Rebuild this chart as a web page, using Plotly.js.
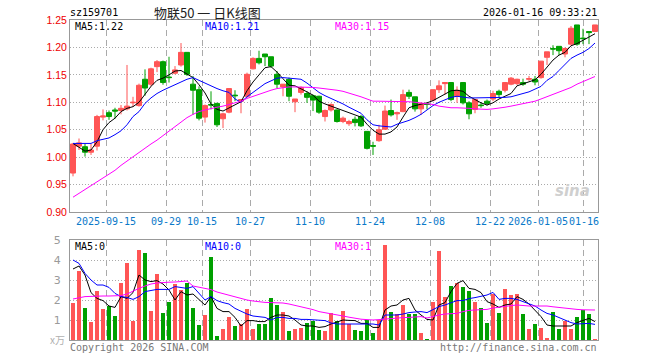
<!DOCTYPE html>
<html><head><meta charset="utf-8">
<script src="https://cdn.plot.ly/plotly-3.0.1.min.js"></script>
<style>html,body{margin:0;padding:0;background:#fff}#chart{width:660px;height:360px}</style>
</head><body><div id="chart"></div>
<script>
// ---- data ----
const openP  = [0.971,1.020,1.019,1.009,1.020,1.073,1.081,1.086,1.085,1.088,1.099,1.094,1.142,1.133,1.165,1.174,1.146,1.153,1.168,1.191,1.133,1.123,1.073,1.096,1.098,1.070,1.082,1.113,1.102,1.111,1.161,1.180,1.188,1.183,1.151,1.128,1.142,1.101,1.118,1.116,1.112,1.111,1.074,1.086,1.086,1.065,1.061,1.069,1.074,1.047,1.021,1.030,1.051,1.085,1.079,1.083,1.118,1.110,1.088,1.097,1.104,1.123,1.134,1.136,1.111,1.136,1.099,1.087,1.095,1.102,1.106,1.120,1.122,1.133,1.134,1.136,1.142,1.142,1.145,1.182,1.198,1.202,1.188,1.206,1.241,1.217,1.229,1.229];
const highP  = [1.026,1.034,1.024,1.024,1.077,1.087,1.085,1.090,1.095,1.168,1.110,1.134,1.160,1.163,1.177,1.176,1.183,1.166,1.208,1.191,1.148,1.129,1.096,1.120,1.099,1.081,1.126,1.122,1.105,1.154,1.182,1.194,1.188,1.183,1.157,1.133,1.145,1.106,1.129,1.120,1.114,1.112,1.087,1.098,1.087,1.074,1.068,1.074,1.077,1.047,1.028,1.059,1.094,1.105,1.083,1.123,1.123,1.110,1.100,1.099,1.123,1.140,1.137,1.137,1.129,1.137,1.102,1.106,1.100,1.105,1.121,1.123,1.137,1.146,1.143,1.143,1.148,1.148,1.175,1.192,1.204,1.202,1.200,1.239,1.241,1.234,1.229,1.241];
const lowP   = [0.965,1.013,1.001,1.004,1.012,1.067,1.068,1.070,1.078,1.085,1.092,1.092,1.112,1.129,1.155,1.132,1.136,1.151,1.165,1.148,1.077,1.067,1.063,1.087,1.055,1.053,1.080,1.102,1.080,1.108,1.160,1.169,1.166,1.163,1.126,1.111,1.102,1.082,1.114,1.099,1.084,1.079,1.065,1.083,1.063,1.062,1.057,1.056,1.055,1.014,1.004,1.028,1.050,1.074,1.068,1.082,1.106,1.083,1.077,1.087,1.102,1.117,1.114,1.102,1.099,1.096,1.069,1.080,1.090,1.094,1.102,1.108,1.118,1.131,1.131,1.130,1.139,1.131,1.143,1.168,1.186,1.186,1.182,1.203,1.203,1.206,1.206,1.228];
const closeP = [1.024,1.026,1.009,1.013,1.074,1.075,1.074,1.084,1.089,1.093,1.100,1.131,1.126,1.161,1.174,1.136,1.145,1.159,1.191,1.151,1.122,1.071,1.094,1.095,1.059,1.079,1.125,1.112,1.105,1.151,1.180,1.172,1.183,1.166,1.133,1.133,1.111,1.106,1.127,1.109,1.104,1.082,1.085,1.096,1.065,1.071,1.065,1.063,1.057,1.016,1.020,1.050,1.084,1.077,1.081,1.114,1.111,1.088,1.098,1.096,1.123,1.130,1.136,1.105,1.122,1.099,1.079,1.105,1.094,1.098,1.116,1.114,1.136,1.144,1.142,1.133,1.143,1.137,1.175,1.192,1.197,1.194,1.198,1.235,1.206,1.216,1.227,1.241];
const ma5  = [1.025,1.018,1.011,1.013,1.028,1.050,1.063,1.071,1.083,1.089,1.092,1.100,1.114,1.129,1.140,1.144,1.150,1.157,1.158,1.152,1.145,1.132,1.117,1.097,1.087,1.084,1.090,1.096,1.101,1.121,1.137,1.150,1.163,1.165,1.155,1.143,1.131,1.130,1.125,1.119,1.113,1.102,1.097,1.093,1.089,1.085,1.080,1.076,1.073,1.060,1.049,1.042,1.042,1.046,1.055,1.073,1.090,1.094,1.096,1.099,1.103,1.109,1.114,1.121,1.122,1.120,1.111,1.105,1.099,1.095,1.099,1.106,1.111,1.116,1.130,1.134,1.137,1.141,1.151,1.163,1.177,1.186,1.191,1.203,1.207,1.213,1.219,1.225];
const ma10 = [1.025,1.025,1.025,1.025,1.030,1.033,1.035,1.041,1.048,1.059,1.074,1.083,1.098,1.108,1.116,1.122,1.127,1.131,1.137,1.142,1.145,1.140,1.134,1.130,1.125,1.121,1.118,1.106,1.100,1.110,1.118,1.126,1.134,1.139,1.144,1.145,1.144,1.143,1.142,1.135,1.126,1.118,1.112,1.107,1.103,1.097,1.091,1.085,1.080,1.068,1.059,1.057,1.056,1.055,1.060,1.063,1.067,1.072,1.078,1.086,1.094,1.100,1.105,1.109,1.111,1.109,1.108,1.108,1.108,1.108,1.108,1.108,1.109,1.110,1.113,1.116,1.119,1.124,1.129,1.140,1.147,1.158,1.170,1.180,1.186,1.191,1.198,1.208];
const ma30 = [0.927,0.934,0.941,0.948,0.955,0.962,0.969,0.976,0.985,0.993,1.000,1.008,1.016,1.024,1.031,1.039,1.048,1.056,1.064,1.072,1.078,1.083,1.086,1.089,1.091,1.093,1.096,1.099,1.102,1.107,1.111,1.115,1.118,1.122,1.125,1.127,1.128,1.128,1.128,1.128,1.127,1.126,1.125,1.124,1.122,1.120,1.117,1.114,1.110,1.106,1.102,1.102,1.102,1.102,1.102,1.101,1.101,1.100,1.099,1.098,1.096,1.093,1.091,1.090,1.090,1.090,1.089,1.088,1.087,1.087,1.088,1.089,1.091,1.093,1.095,1.097,1.099,1.102,1.106,1.110,1.114,1.118,1.122,1.127,1.133,1.138,1.143,1.147];
const volume = [1.87,3.47,1.60,0.92,2.45,1.55,1.70,1.20,2.87,3.87,0.97,4.50,4.37,1.47,3.30,1.37,1.92,2.80,2.50,2.87,1.62,0.77,1.25,4.17,0.20,0.57,1.15,0.70,0.80,1.55,0.57,0.80,0.80,2.10,1.75,1.42,0.47,0.57,0.62,0.87,0.97,0.52,0.47,1.33,0.97,1.45,0.80,0.50,0.45,1.00,0.35,1.00,4.75,1.40,1.28,1.75,1.30,1.30,0.35,0.05,1.90,4.45,2.15,2.70,2.85,2.65,2.45,1.90,1.60,0.85,2.30,1.35,2.55,2.25,2.30,1.30,0.55,0.80,0.60,0.10,1.40,0.55,0.95,0.55,1.15,1.50,1.30,0.05];
const volMa5  = [3.55,3.70,3.25,2.37,2.08,1.97,1.70,1.63,2.17,2.08,2.37,3.25,3.00,2.92,2.97,2.80,2.50,2.00,2.42,2.25,2.30,2.00,1.75,2.17,1.58,1.42,1.42,1.13,0.70,0.97,0.97,0.92,0.92,1.13,1.25,1.25,1.20,1.00,0.75,0.70,0.70,0.63,0.67,0.80,0.92,1.00,0.98,0.97,0.83,0.83,0.63,0.63,1.50,1.70,1.75,2.00,2.08,1.50,1.25,1.03,1.00,1.75,1.87,2.42,2.83,2.97,2.58,2.53,2.37,1.92,1.80,1.63,1.75,1.80,2.17,2.03,1.80,1.50,1.17,0.75,0.70,0.70,0.70,0.70,0.87,0.97,1.08,0.92];
const volMa10 = [4.00,3.83,3.33,3.00,2.75,2.75,2.63,2.33,2.17,2.13,2.03,2.17,2.42,2.47,2.53,2.53,2.53,2.67,2.63,2.58,2.67,2.33,2.00,2.17,1.97,1.87,1.80,1.58,1.42,1.30,1.20,1.17,1.13,1.00,1.13,1.13,1.08,1.08,1.03,1.03,1.00,1.00,0.97,0.85,0.80,0.80,0.80,0.82,0.83,0.83,0.80,0.75,1.25,1.25,1.25,1.30,1.37,1.40,1.42,1.37,1.50,1.67,1.75,1.87,1.97,1.97,2.07,2.12,2.17,2.25,2.38,2.03,2.08,2.08,2.03,1.92,1.83,1.70,1.50,1.33,1.25,1.13,1.00,0.87,0.80,0.80,0.83,0.78];
const volMa30 = [2.05,2.12,2.17,2.18,2.20,2.20,2.20,2.20,2.22,2.30,2.45,2.58,2.70,2.80,2.85,2.88,2.89,2.90,2.91,2.95,2.70,2.65,2.60,2.52,2.40,2.32,2.22,2.14,2.07,2.00,1.95,1.90,1.88,1.87,1.87,1.85,1.80,1.73,1.67,1.60,1.52,1.42,1.37,1.33,1.27,1.20,1.14,1.08,1.04,1.02,1.00,1.02,1.05,1.08,1.10,1.12,1.13,1.15,1.17,1.10,1.18,1.25,1.30,1.32,1.33,1.42,1.48,1.50,1.52,1.53,1.60,1.65,1.70,1.72,1.75,1.72,1.70,1.70,1.70,1.70,1.66,1.62,1.58,1.56,1.53,1.51,1.50,1.50];
const dateTickPos  = [5.5,15.5,21.5,29.5,39.5,49.5,59.5,69.5,77.5,85];
const dateTickText = ['2025-09-15','09-29','10-15','10-27','11-10','11-24','12-08','12-22','2026-01-05',''];
const lastDateLabel = '01-16';
const priceTicks = [0.90,0.95,1.00,1.05,1.10,1.15,1.20,1.25];
const volTicks = [1,2,3,4,5];
const title = '物联50 一 日K线图';
const code = 'sz159701';
const stamp = '2026-01-16 09:33:21';
const maLabels = ['MA5:1.22','MA10:1.21','MA30:1.15'];
const volMaLabels = ['MA5:0','MA10:0','MA30:1'];

// ---- drawing ----
const RED = '#ff5555', GREEN = '#00a000';
const idx = closeP.map((_, i) => i);
const volColors = closeP.map((c, i) => c >= openP[i] ? RED : GREEN);
const mono = 'DejaVu Sans Mono';

const traces = [
  {type:'candlestick', x: idx, open: openP, high: highP, low: lowP, close: closeP,
   xaxis:'x', yaxis:'y', whiskerwidth: 0, hoverinfo:'skip',
   increasing:{line:{color:RED, width:1}, fillcolor:RED},
   decreasing:{line:{color:GREEN, width:1}, fillcolor:GREEN}},
  {type:'scatter', mode:'lines', x: idx, y: ma5, xaxis:'x', yaxis:'y', line:{color:'#000000', width:1}},
  {type:'scatter', mode:'lines', x: idx, y: ma10, xaxis:'x', yaxis:'y', line:{color:'#0000ff', width:1}},
  {type:'scatter', mode:'lines', x: idx, y: ma30, xaxis:'x', yaxis:'y', line:{color:'#ff00ff', width:1}},
  {type:'bar', x: idx, y: volume, xaxis:'x2', yaxis:'y2', width: 0.83, marker:{color: volColors, line:{width:0}}},
  {type:'scatter', mode:'lines', x: idx, y: volMa5, xaxis:'x2', yaxis:'y2', line:{color:'#000000', width:1}},
  {type:'scatter', mode:'lines', x: idx, y: volMa10, xaxis:'x2', yaxis:'y2', line:{color:'#0000ff', width:1}},
  {type:'scatter', mode:'lines', x: idx, y: volMa30, xaxis:'x2', yaxis:'y2', line:{color:'#ff00ff', width:1}}
];

const L = 70, R = 598, T = 20, B = 340;
const px = x => (x - L) / (R - L);
const py = y => (B - y) / (B - T);
function ann(text, x, y, xanchor, color, size, family, extra) {
  return Object.assign({text, x: px(x), y: py(y), xref:'paper', yref:'paper', xanchor, yanchor:'middle',
    showarrow:false, borderpad:0, font:{family: family || mono, size: size || 10, color: color || '#000'}}, extra || {});
}

const axisCommon = {showline:true, mirror:true, linecolor:'#999', linewidth:1, zeroline:false, ticks:'', fixedrange:true};
const layout = {
  width:660, height:360, margin:{l:L, r:660-R, t:T, b:360-B},
  paper_bgcolor:'#fff', plot_bgcolor:'#fff', showlegend:false, boxgap:0.17, boxgroupgap:0, bargap:0,
  xaxis: Object.assign({}, axisCommon, {domain:[0,1], anchor:'y', range:[-0.5,87.5], tickvals: dateTickPos, ticktext: dateTickText,
    tickangle:0, showgrid:true, gridcolor:'#aaa', gridwidth:1, griddash:'6px,4px', rangeslider:{visible:false},
    tickfont:{family:mono, size:10, color:'#0a79c9'}}),
  yaxis: Object.assign({}, axisCommon, {domain:[0.4,1], anchor:'x', range:[0.90,1.25], tickvals: priceTicks,
    ticktext: priceTicks.map(v => v.toFixed(2)), showgrid:true, gridcolor:'#aaa', griddash:'1px,2px',
    tickfont:{family:'Liberation Sans', size:10.5, color:'#ee0000'}}),
  xaxis2: Object.assign({}, axisCommon, {domain:[0,1], anchor:'y2', range:[-0.5,87.5], tickvals: dateTickPos,
    showticklabels:false, showgrid:true, gridcolor:'#aaa', gridwidth:1, griddash:'6px,4px'}),
  yaxis2: Object.assign({}, axisCommon, {domain:[0,0.3125], anchor:'x2', range:[0,5], tickvals: volTicks,
    showgrid:true, gridcolor:'#aaa', griddash:'1px,2px', ticklabelstandoff:6,
    tickfont:{family:'DejaVu Sans', size:11, color:'#9a9a9a'}}),
  annotations: [
    ann(code, 69, 12, 'left', '#000', 10),
    ann(title, 207, 12, 'center', '#222', 13, 'Noto Sans CJK SC'),
    ann(stamp, 598, 12, 'right', '#000', 10),
    ann(maLabels[0], 74, 27, 'left', '#000', 10),
    ann(maLabels[1], 204, 27, 'left', '#0000ff', 10),
    ann(maLabels[2], 334, 27, 'left', '#ff00ff', 10),
    ann(volMaLabels[0], 74, 246, 'left', '#000', 10),
    ann(volMaLabels[1], 204, 246, 'left', '#0000ff', 10),
    ann(volMaLabels[2], 334, 246, 'left', '#ff00ff', 10),
    ann('Copyright 2026 SINA.COM', 69, 347, 'left', '#777', 10),
    ann('http://finance.sina.com.cn', 598, 347, 'right', '#777', 10),
    ann('x万', 66, 339, 'right', '#b0b0b0', 10, 'Noto Sans CJK SC'),
    ann(lastDateLabel, 583.5, 221, 'center', '#0a79c9', 10),
    ann('sina', 572, 191, 'center', '#cfcfcf', 15, 'DejaVu Sans', {font:{family:'DejaVu Sans', size:15, color:'#cfcfcf', weight:'bold', style:'italic'}})
  ]
};

Plotly.newPlot('chart', traces, layout, {staticPlot:true, displayModeBar:false});
</script>
</body></html>
